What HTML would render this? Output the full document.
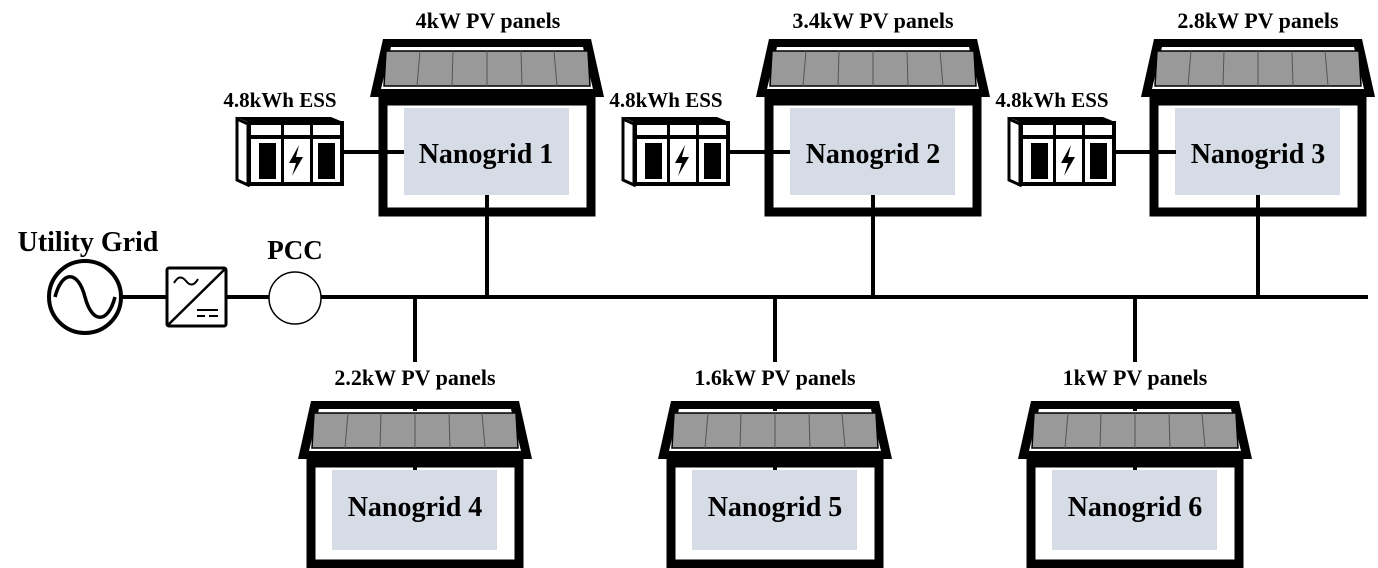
<!DOCTYPE html>
<html><head><meta charset="utf-8"><style>
html,body{margin:0;padding:0;background:#fff;}
svg{display:block;}
text{font-family:"Liberation Serif",serif;font-weight:bold;fill:#000;}
</style></head><body>
<svg width="1378" height="568" viewBox="0 0 1378 568" xmlns="http://www.w3.org/2000/svg">
<defs>
<g id="roof">
  <polygon points="-104,0 104,0 117,58 -117,58" fill="#000"/>
  <polygon points="-96,8 96,8 106,50 -106,50" fill="#fff"/>
  <polygon points="-101,12 101,12 103,47 -103,47" fill="#999" stroke="#000" stroke-width="1.5"/>
  <g stroke="#555" stroke-width="1">
    <line x1="-67" y1="12" x2="-70" y2="47"/>
    <line x1="-34" y1="12" x2="-35" y2="47"/>
    <line x1="0" y1="12" x2="0" y2="47"/>
    <line x1="34" y1="12" x2="35" y2="47"/>
    <line x1="67" y1="12" x2="70" y2="47"/>
  </g>
</g>
<g id="house">
  <use href="#roof"/>
  <rect x="-104" y="62" width="208" height="111" fill="#fff" stroke="#000" stroke-width="9"/>
  <rect x="-83" y="69" width="165" height="87" fill="#d6dce5"/>
</g>
<g id="houseb">
  <use href="#roof"/>
  <rect x="-104" y="62" width="208" height="101" fill="#fff" stroke="#000" stroke-width="9"/>
  <rect x="-83" y="69" width="165" height="80" fill="#d6dce5"/>
</g>
<g id="ess">
  <polygon points="236,117 331,117 343,122 248,122" fill="#000"/>
  <polygon points="237,119 248,124 248,185 237,180" fill="#fff" stroke="#000" stroke-width="3"/>
  <rect x="249" y="123" width="93" height="61" fill="#fff" stroke="#000" stroke-width="4"/>
  <rect x="249" y="135" width="93" height="4" fill="#000"/>
  <rect x="281" y="123" width="3" height="61" fill="#000"/>
  <rect x="310" y="123" width="3" height="61" fill="#000"/>
  <rect x="259" y="143" width="17" height="36" fill="#000"/>
  <rect x="318" y="143" width="17" height="36" fill="#000"/>
  <polygon points="299,145 289,163 296,163 292,176 303,157 296,157" fill="#000"/>
  <line x1="344" y1="152" x2="404" y2="152" stroke="#000" stroke-width="4"/>
</g>
</defs>

<line x1="122" y1="297" x2="1368" y2="297" stroke="#000" stroke-width="4"/>
<g stroke="#000" stroke-width="4">
<line x1="487" y1="190" x2="487" y2="297"/>
<line x1="873" y1="190" x2="873" y2="297"/>
<line x1="1258" y1="190" x2="1258" y2="297"/>
<line x1="415" y1="297" x2="415" y2="362"/>
<line x1="775" y1="297" x2="775" y2="362"/>
<line x1="1135" y1="297" x2="1135" y2="362"/>
</g>

<use href="#house" transform="translate(487,39)"/>
<use href="#house" transform="translate(873,39)"/>
<use href="#house" transform="translate(1258,39)"/>
<line x1="487" y1="195" x2="487" y2="212" stroke="#000" stroke-width="4"/>
<line x1="873" y1="195" x2="873" y2="212" stroke="#000" stroke-width="4"/>
<line x1="1258" y1="195" x2="1258" y2="212" stroke="#000" stroke-width="4"/>

<use href="#houseb" transform="translate(415,401)"/>
<use href="#houseb" transform="translate(775,401)"/>
<use href="#houseb" transform="translate(1135,401)"/>
<g stroke="#000" stroke-width="4">
<line x1="415" y1="401" x2="415" y2="411"/><line x1="415" y1="456" x2="415" y2="470"/>
<line x1="775" y1="401" x2="775" y2="411"/><line x1="775" y1="456" x2="775" y2="470"/>
<line x1="1135" y1="401" x2="1135" y2="411"/><line x1="1135" y1="456" x2="1135" y2="470"/>
</g>

<use href="#ess"/>
<use href="#ess" transform="translate(386,0)"/>
<use href="#ess" transform="translate(772,0)"/>

<circle cx="85" cy="297" r="36" fill="#fff" stroke="#000" stroke-width="4"/>
<path d="M55,297 C62,270 78,270 85,297 C92,324 108,324 115,297" fill="none" stroke="#000" stroke-width="3.5"/>
<line x1="121" y1="297" x2="166" y2="297" stroke="#000" stroke-width="4"/>
<rect x="167" y="268" width="59" height="58" rx="2" fill="#fff" stroke="#000" stroke-width="3"/>
<line x1="168" y1="325" x2="225" y2="269" stroke="#000" stroke-width="2.5"/>
<path d="M174,283 C178,276 182,276 186,281 C190,286 194,286 198,279" fill="none" stroke="#000" stroke-width="2"/>
<line x1="197" y1="310" x2="218" y2="310" stroke="#000" stroke-width="2"/>
<line x1="197" y1="316" x2="205" y2="316" stroke="#000" stroke-width="2"/>
<line x1="209" y1="316" x2="218" y2="316" stroke="#000" stroke-width="2"/>
<line x1="226" y1="297" x2="269" y2="297" stroke="#000" stroke-width="4"/>
<circle cx="295" cy="298" r="26" fill="#fff" stroke="#000" stroke-width="1.5"/>

<text x="88" y="251" style="font-size:28px" text-anchor="middle">Utility Grid</text>
<text x="295" y="259" style="font-size:27px" text-anchor="middle">PCC</text>
<g text-anchor="middle">
<text x="488" y="28" style="font-size:22px">4kW PV panels</text>
<text x="873" y="28" style="font-size:22px">3.4kW PV panels</text>
<text x="1258" y="28" style="font-size:22px">2.8kW PV panels</text>
<text x="415" y="385" style="font-size:22px">2.2kW PV panels</text>
<text x="775" y="385" style="font-size:22px">1.6kW PV panels</text>
<text x="1135" y="385" style="font-size:22px">1kW PV panels</text>
<text x="280" y="107" style="font-size:21px">4.8kWh ESS</text>
<text x="666" y="107" style="font-size:21px">4.8kWh ESS</text>
<text x="1052" y="107" style="font-size:21px">4.8kWh ESS</text>
</g>
<g text-anchor="middle">
<text x="486" y="163" style="font-size:28px">Nanogrid 1</text>
<text x="873" y="163" style="font-size:28px">Nanogrid 2</text>
<text x="1258" y="163" style="font-size:28px">Nanogrid 3</text>
<text x="415" y="516" style="font-size:28px">Nanogrid 4</text>
<text x="775" y="516" style="font-size:28px">Nanogrid 5</text>
<text x="1135" y="516" style="font-size:28px">Nanogrid 6</text>
</g>
</svg>
</body></html>
